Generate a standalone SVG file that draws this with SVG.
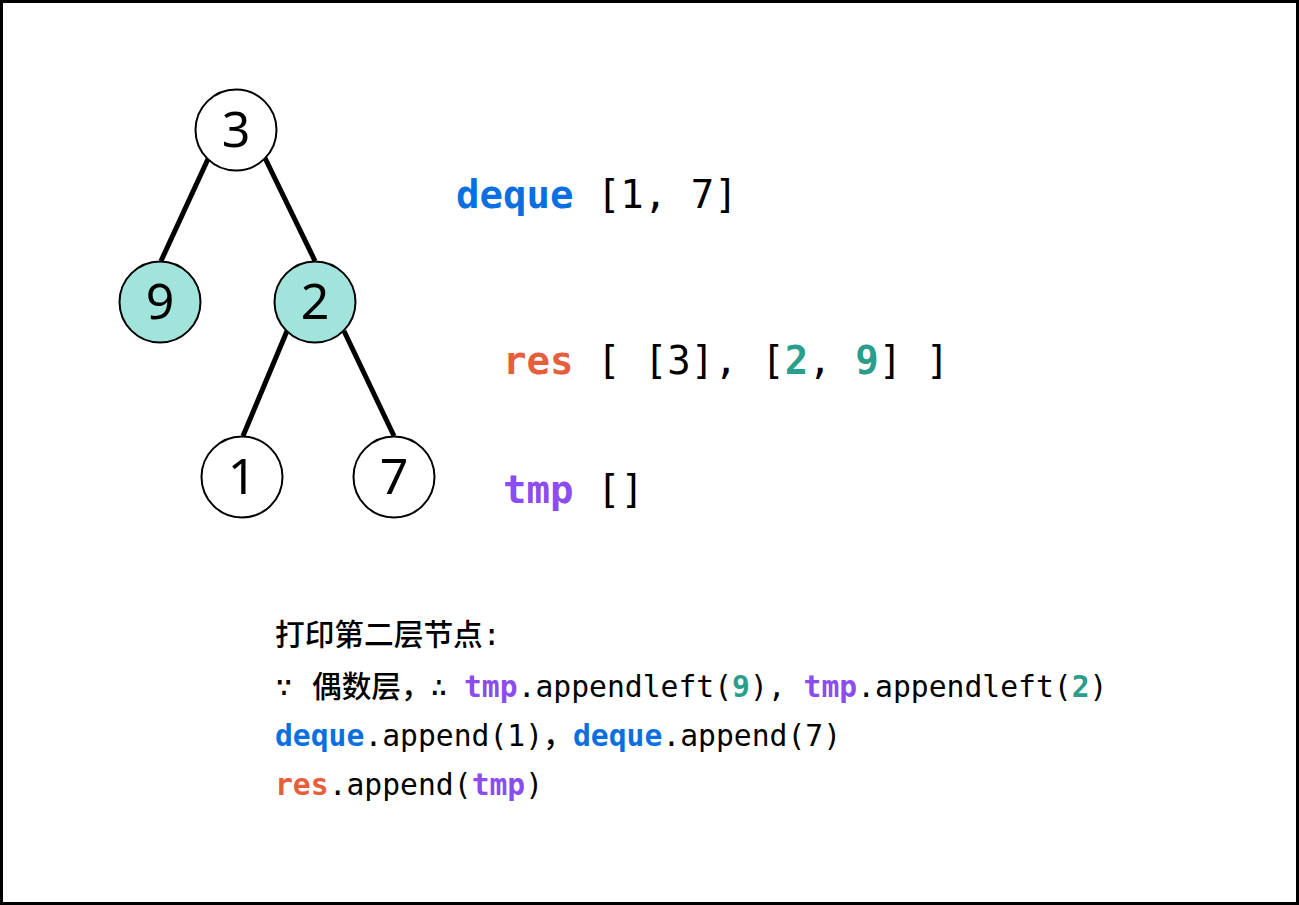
<svg xmlns="http://www.w3.org/2000/svg" width="1299" height="905" viewBox="0 0 1299 905">
<style>
.node circle{stroke:#000;stroke-width:2}
.node text{font-family:"Noto Sans","Open Sans",sans-serif;font-size:50px;text-anchor:middle;fill:#000}
.w{fill:#fff}.g{fill:#a0e4dc}
.edge{stroke:#000;stroke-width:5;fill:none}
.mono{font-family:"DejaVu Sans Mono","Noto Sans CJK SC",monospace;fill:#000}
.big{font-size:39px}
.small{font-size:29.7px}
.cjk{font-family:"Noto Sans CJK SC",sans-serif;font-weight:500}
.b{font-weight:bold}
.blue{fill:#0a6fe0}.red{fill:#e65f3d}.pur{fill:#8b4cf0}.teal{fill:#2a9d8c}
</style>
<rect x="1.5" y="1.5" width="1296" height="902" fill="#fff" stroke="#000" stroke-width="3"/>
<g id="connectors">
<line class="edge" x1="208" y1="159" x2="161" y2="261"/>
<line class="edge" x1="265" y1="158" x2="315" y2="261"/>
<line class="edge" x1="287" y1="331" x2="243" y2="436"/>
<line class="edge" x1="344" y1="331" x2="394" y2="436"/>
</g>
<g id="node3" class="node"><circle class="w" cx="236" cy="130" r="40.5"/><text x="236" y="147">3</text></g>
<g id="node9" class="node"><circle class="g" cx="160" cy="302" r="40.5"/><text x="160" y="319">9</text></g>
<g id="node2" class="node"><circle class="g" cx="315" cy="302" r="40.5"/><text x="315" y="319">2</text></g>
<g id="node1" class="node"><circle class="w" cx="242" cy="477" r="40.5"/><text x="242" y="494">1</text></g>
<g id="node7" class="node"><circle class="w" cx="394" cy="477" r="40.5"/><text x="394" y="494">7</text></g>
<g id="labels">
<text class="mono big" x="456" y="208"><tspan class="b blue">deque</tspan> [1, 7]</text>
<text class="mono big" x="503" y="374"><tspan class="b red">res</tspan> [ [3], [<tspan class="b teal">2</tspan>, <tspan class="b teal">9</tspan>] ]</text>
<text class="mono big" x="503" y="503"><tspan class="b pur">tmp</tspan> []</text>
</g>
<g id="notes">
<text class="mono small" x="275" y="645"><tspan class="cjk">打印第二层节点</tspan>:</text>
<text class="mono small" x="275" y="697">∵<tspan class="cjk" x="312">偶数层，</tspan><tspan x="430">∴</tspan><tspan x="464" class="b pur">tmp</tspan>.appendleft(<tspan class="b teal">9</tspan>), <tspan class="b pur">tmp</tspan>.appendleft(<tspan class="b teal">2</tspan>)</text>
<text class="mono small" x="275" y="746"><tspan class="b blue">deque</tspan>.append(1)<tspan class="cjk">，</tspan><tspan x="573" class="b blue">deque</tspan>.append(7)</text>
<text class="mono small" x="275" y="795"><tspan class="b red">res</tspan>.append(<tspan class="b pur">tmp</tspan>)</text>
</g>
</svg>
